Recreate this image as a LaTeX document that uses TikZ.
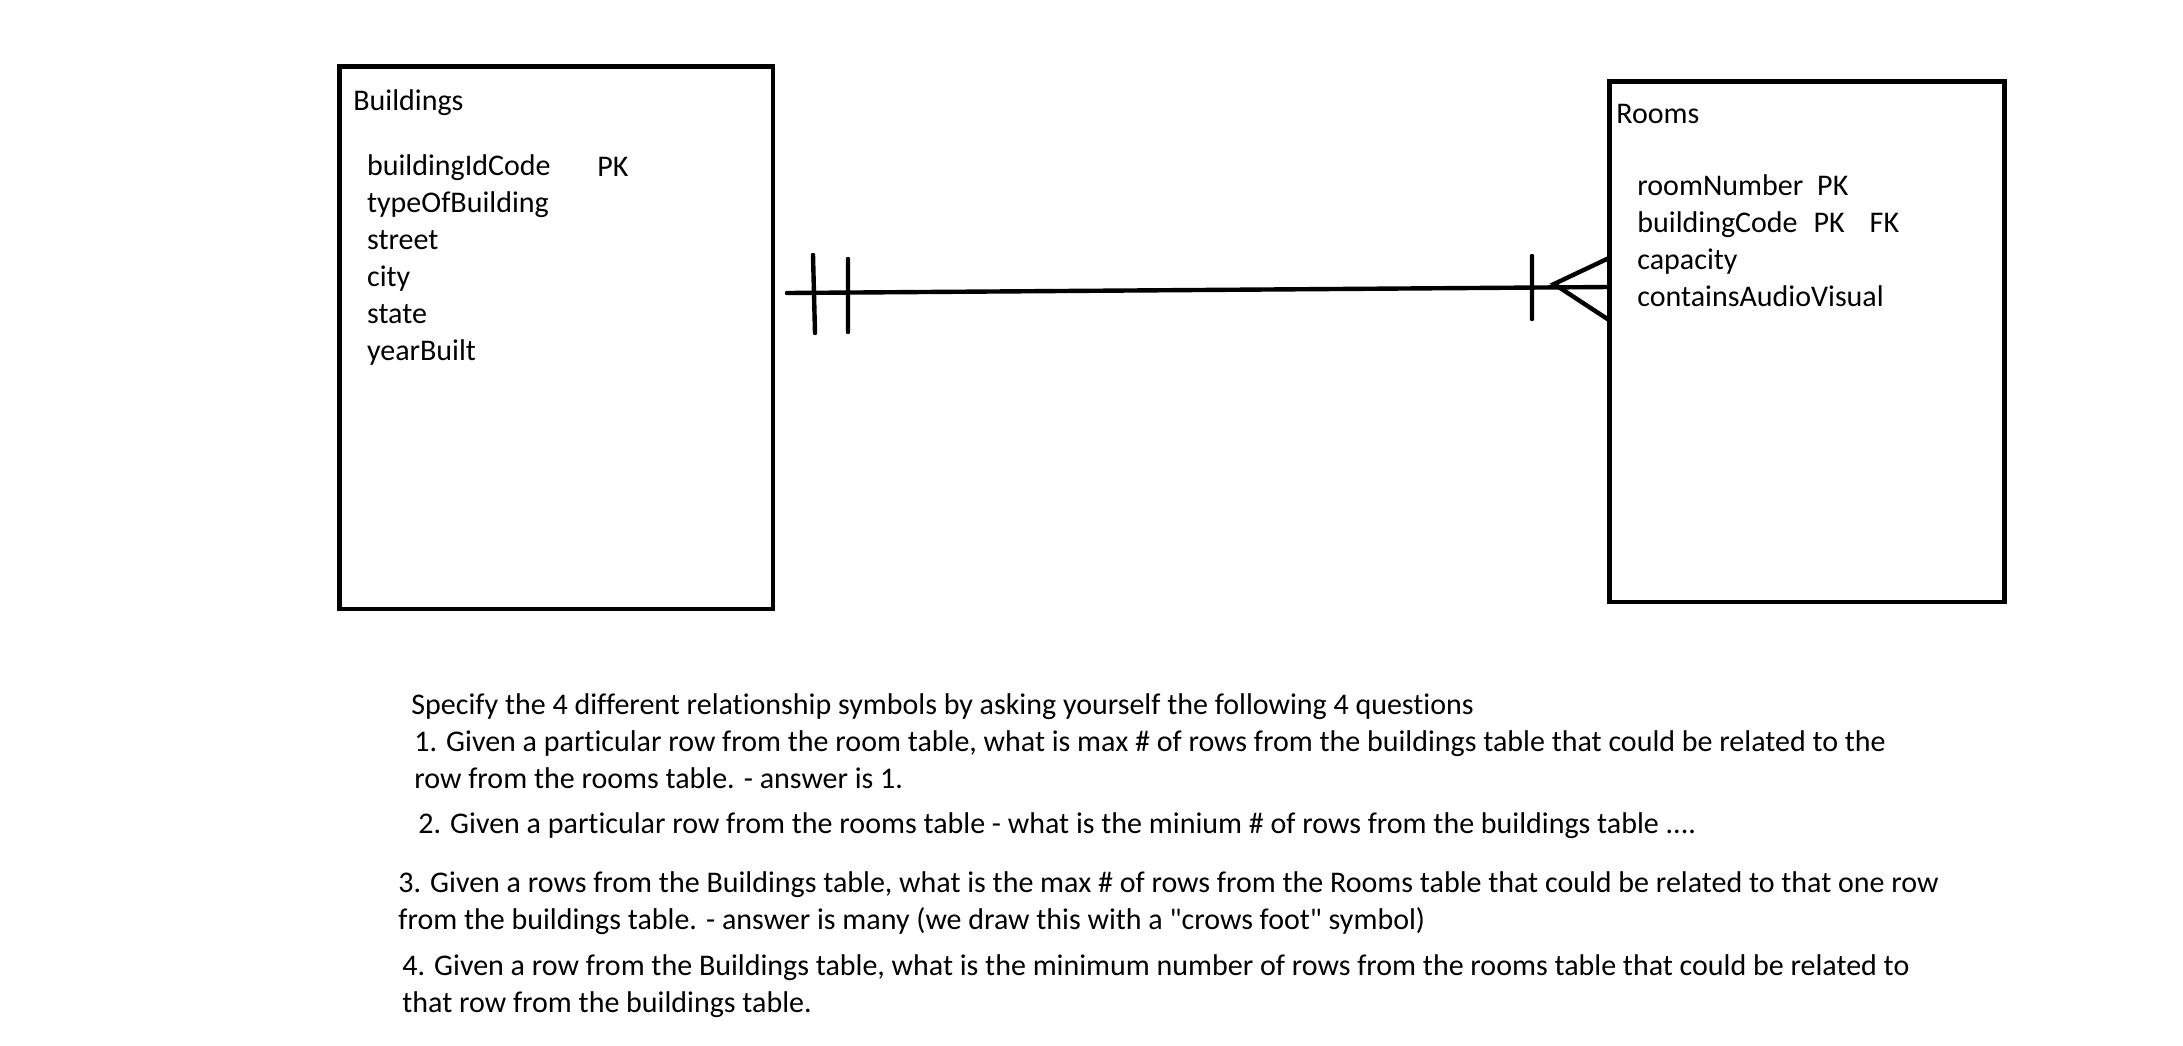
\documentclass[tikz,border=0pt]{standalone}
\usepackage{fontspec}
\setmainfont{Carlito}[Ligatures={TeX,NoCommon}]
\usetikzlibrary{positioning}

\begin{document}
\begin{tikzpicture}[
x = 0.5pt, y = -0.5pt,
entity/.style = {rectangle, draw, line width=2.4pt, inner sep=0pt},
 field/.style = {anchor=base west, inner sep=0pt, align=left,
                 font=\fontsize{15}{18.5}\selectfont},
   sym/.style = {line width=2.2pt, line cap=round}
                    ]
\useasboundingbox (0,0) rectangle (2183,1045);
% tables
\node (bld) [entity, minimum width=216.75pt, minimum height=271.25pt] at (556.25,337.75) {};
\node (rms) [entity, minimum width=197.5pt, minimum height=260.25pt] at (1807,341.75) {};

% multi-line texts sit on the baseline of their last line
\node (bt) [field] at (353,110) {Buildings};
\node (bf) [field] at (366.7,360) {buildingIdCode\\typeOfBuilding\\street\\city\\state\\yearBuilt};
\node (bpk) [field] at (597,176) {PK};

\node (rt) [field] at (1616,123) {Rooms};
\node (rf) [field] at (1637,306) {roomNumber\hspace{7pt}PK\\buildingCode\hspace{8pt}PK\hspace{12.5pt}FK\\capacity\\containsAudioVisual};

% relationship
\coordinate (l) at (787,293);
\coordinate (r) at (1609,287);
\coordinate (apex) at (1554,284);
\draw[sym] (l) -- (r);
\draw[sym] (813,255) -- (815,333)
           (848,259) -- (848,332)
           (1532,256) -- (1532,319);
\draw[sym] (1609,258) -- (apex) -- (1609,320);

% questions
\node (q0) [field] at (411,714) {Specify the 4 different relationship symbols by asking yourself the following 4 questions};
\node (q1) [field] at (414,788) {1. Given a particular row from the room table, what is max \# of rows from the buildings table that could be related to the\\row from the rooms table. - answer is 1.};
\node (q2) [field] at (418,833) {2. Given a particular row from the rooms table - what is the minium \# of rows from the buildings table ....};
\node (q3) [field] at (398,929) {3. Given a rows from the Buildings table, what is the max \# of rows from the Rooms table that could be related to that one row\\from the buildings table. - answer is many (we draw this with a \textquotedbl crows foot\textquotedbl\ symbol)};
\node (q4) [field] at (402,1012) {4. Given a row from the Buildings table, what is the minimum number of rows from the rooms table that could be related to\\that row from the buildings table.};
\end{tikzpicture}
\end{document}
